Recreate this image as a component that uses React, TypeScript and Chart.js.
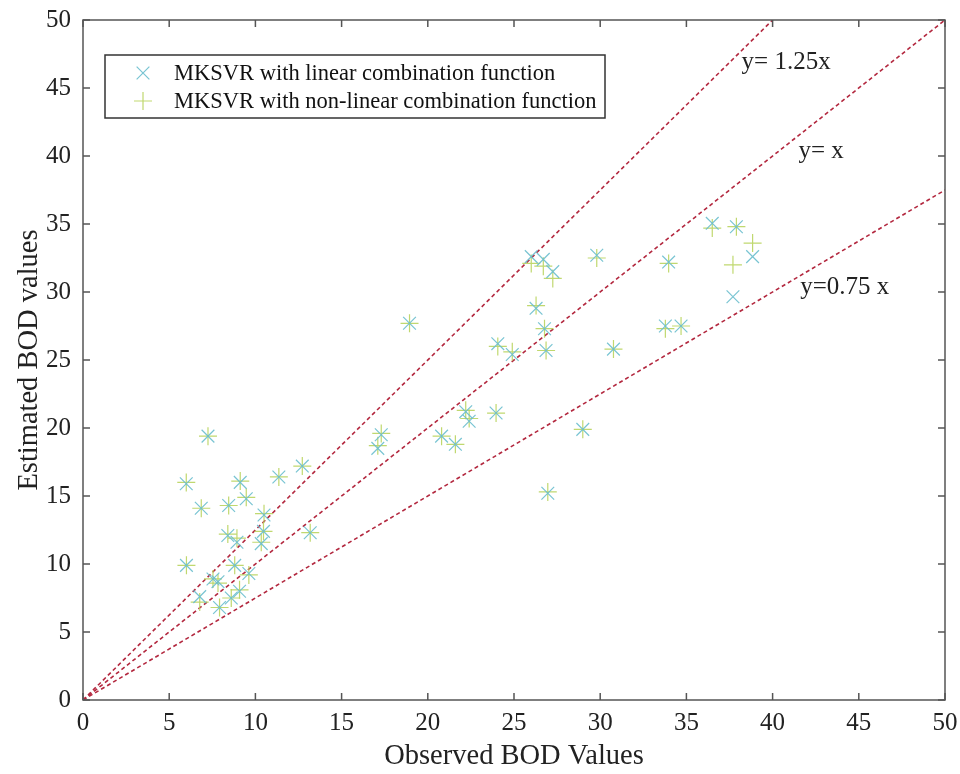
import React, { useEffect, useRef } from "react";
import { Chart, registerables } from "chart.js";

Chart.register(...registerables);

const observed = [
  5.99, 6.0, 6.86, 6.77, 7.25, 7.54, 7.83, 7.92, 8.45, 8.4,
  8.93, 8.8, 8.6, 9.08, 9.12, 9.47, 9.62, 10.5, 10.47, 10.34,
  11.36, 12.72, 13.18, 17.1, 17.3, 18.94, 20.8, 21.6, 22.2, 22.4,
  23.96, 24.06, 24.9, 26.0, 26.7, 27.25, 26.28, 26.77, 26.86, 26.96,
  28.99, 29.8, 30.77, 33.78, 34.69, 33.97, 36.5, 37.9, 38.84, 37.7,
];

const estimatedLinear = [
  15.9, 9.9, 14.1, 7.6, 19.4, 8.9, 8.7, 6.8, 14.3, 12.1,
  11.6, 9.9, 7.5, 8.0, 16.0, 14.8, 9.3, 13.6, 12.4, 11.5,
  16.4, 17.2, 12.3, 18.5, 19.5, 27.7, 19.4, 18.8, 21.2, 20.5,
  21.1, 26.2, 25.4, 32.6, 32.4, 31.5, 28.8, 27.3, 25.7, 15.2,
  19.9, 32.7, 25.8, 27.5, 27.5, 32.2, 35.05, 34.8, 32.6, 29.65,
];

const estimatedNonLinear = [
  16.0, 9.9, 14.1, 7.2, 19.4, 8.9, 8.6, 6.8, 14.3, 12.2,
  11.9, 9.9, 7.5, 8.1, 16.1, 14.9, 9.2, 13.7, 12.4, 11.6,
  16.4, 17.2, 12.3, 18.7, 19.6, 27.7, 19.4, 18.8, 21.3, 20.7,
  21.1, 26.0, 25.6, 32.1, 31.9, 31.0, 29.0, 27.3, 25.7, 15.3,
  19.9, 32.5, 25.8, 27.3, 27.5, 32.1, 34.7, 34.8, 33.6, 32.0,
];

const seriesLabels = [
  "MKSVR with linear combination function",
  "MKSVR with non-linear combination function",
];

// reference lines: endpoints [x, y]
const lineUpper = [[0, 0], [40, 50]];
const lineEqual = [[0, 0], [50, 50]];
const lineLower = [[0, 0], [50, 37.5]];
const lineLabels = ["y= 1.25x", "y= x", "y=0.75 x"];
// label anchor positions in data coordinates [x, y]
const labelPositions = [[38.2, 46.9], [41.5, 40.3], [41.6, 30.3]];

const axisTicks = [0, 5, 10, 15, 20, 25, 30, 35, 40, 45, 50];

const LINEAR_COLOR = "rgba(105,190,205,0.9)";
const NONLINEAR_COLOR = "rgba(185,212,95,0.9)";
const REF_COLOR = "#b3283f";
const SERIF = "'Liberation Serif', 'Times New Roman', serif";

export default function App() {
  const ref = useRef<HTMLCanvasElement | null>(null);

  useEffect(() => {
    const canvas = ref.current;
    if (!canvas) return;

    const toPts = (arr: number[][]) => arr.map(([x, y]) => ({ x, y }));

    const framePlugin = {
      id: "framePlugin",
      afterDraw(chart: any) {
        const { ctx, chartArea, scales } = chart;
        const { left, right, top, bottom } = chartArea;
        const xs = scales.x;
        const ys = scales.y;
        ctx.save();
        ctx.strokeStyle = "#555";
        ctx.lineWidth = 1.5;
        ctx.strokeRect(left, top, right - left, bottom - top);
        const tl = 7;
        ctx.beginPath();
        axisTicks.forEach((v) => {
          const px = xs.getPixelForValue(v);
          ctx.moveTo(px, bottom);
          ctx.lineTo(px, bottom - tl);
          ctx.moveTo(px, top);
          ctx.lineTo(px, top + tl);
          const py = ys.getPixelForValue(v);
          ctx.moveTo(left, py);
          ctx.lineTo(left + tl, py);
          ctx.moveTo(right, py);
          ctx.lineTo(right - tl, py);
        });
        ctx.stroke();

        ctx.fillStyle = "#222";
        ctx.font = `25px ${SERIF}`;
        ctx.textAlign = "left";
        ctx.textBaseline = "middle";
        lineLabels.forEach((t, i) => {
          const [lx, ly] = labelPositions[i];
          ctx.fillText(t, xs.getPixelForValue(lx), ys.getPixelForValue(ly));
        });

        // legend
        const bx = left + 22;
        const by = top + 35;
        const bw = 500;
        const bh = 63;
        ctx.fillStyle = "#fff";
        ctx.fillRect(bx, by, bw, bh);
        ctx.strokeStyle = "#333";
        ctx.lineWidth = 1.5;
        ctx.strokeRect(bx, by, bw, bh);
        const mx = bx + 38;
        const rows = [by + 18, by + 46];
        const r = 9;
        ctx.lineWidth = 1.2;
        ctx.strokeStyle = LINEAR_COLOR;
        ctx.beginPath();
        const d = r * 0.707;
        ctx.moveTo(mx - d, rows[0] - d);
        ctx.lineTo(mx + d, rows[0] + d);
        ctx.moveTo(mx - d, rows[0] + d);
        ctx.lineTo(mx + d, rows[0] - d);
        ctx.stroke();
        ctx.strokeStyle = NONLINEAR_COLOR;
        ctx.beginPath();
        ctx.moveTo(mx - r, rows[1]);
        ctx.lineTo(mx + r, rows[1]);
        ctx.moveTo(mx, rows[1] - r);
        ctx.lineTo(mx, rows[1] + r);
        ctx.stroke();
        ctx.fillStyle = "#111";
        ctx.font = `22.5px ${SERIF}`;
        ctx.textBaseline = "middle";
        seriesLabels.forEach((t, i) => {
          ctx.fillText(t, bx + 69, rows[i] + 1);
        });
        ctx.restore();
      },
    };

    const refLine = (data: number[][]) => ({
      type: "line" as const,
      data: toPts(data),
      borderColor: REF_COLOR,
      borderWidth: 1.6,
      borderDash: [4, 3],
      pointRadius: 0,
      fill: false,
      showLine: true,
    });

    const chart = new Chart(canvas, {
      type: "scatter",
      data: {
        datasets: [
          {
            label: seriesLabels[0],
            data: observed.map((x, i) => ({ x, y: estimatedLinear[i] })),
            pointStyle: "crossRot",
            pointRadius: 9,
            borderColor: LINEAR_COLOR,
            backgroundColor: LINEAR_COLOR,
            pointBorderWidth: 1.2,
          },
          {
            label: seriesLabels[1],
            data: observed.map((x, i) => ({ x, y: estimatedNonLinear[i] })),
            pointStyle: "cross",
            pointRadius: 9,
            borderColor: NONLINEAR_COLOR,
            backgroundColor: NONLINEAR_COLOR,
            pointBorderWidth: 1.2,
          },
          refLine(lineUpper) as any,
          refLine(lineEqual) as any,
          refLine(lineLower) as any,
        ],
      },
      options: {
        animation: false,
        responsive: true,
        maintainAspectRatio: false,
        layout: { padding: { left: 0, top: 20, right: 15, bottom: 0 } },
        plugins: {
          legend: { display: false },
          tooltip: { enabled: false },
        },
        scales: {
          x: {
            type: "linear",
            min: 0,
            max: 50,
            afterBuildTicks: (scale: any) => {
              scale.ticks = axisTicks.map((v) => ({ value: v }));
            },
            afterFit: (scale: any) => {
              scale.height = 74;
              scale.paddingLeft = 0;
              scale.paddingRight = 0;
            },
            grid: { display: false, drawTicks: false },
            border: { display: false },
            ticks: {
              color: "#222",
              font: { family: SERIF, size: 25 },
              padding: 8,
              maxRotation: 0,
            },
            title: {
              display: true,
              text: "Observed BOD Values",
              color: "#222",
              font: { family: SERIF, size: 28.5 },
              padding: { top: 0, bottom: 0 },
            },
          },
          y: {
            type: "linear",
            min: 0,
            max: 50,
            afterBuildTicks: (scale: any) => {
              scale.ticks = axisTicks.map((v) => ({ value: v }));
            },
            afterFit: (scale: any) => {
              scale.width = 83;
              scale.paddingTop = 0;
              scale.paddingBottom = 0;
            },
            grid: { display: false, drawTicks: false },
            border: { display: false },
            ticks: {
              color: "#222",
              font: { family: SERIF, size: 25 },
              padding: 12,
            },
            title: {
              display: true,
              text: "Estimated BOD values",
              color: "#222",
              font: { family: SERIF, size: 28.5 },
              padding: { top: 12, bottom: 6 },
            },
          },
        },
      },
      plugins: [framePlugin],
    });

    return () => chart.destroy();
  }, []);

  return (
    <div style={{ position: "fixed", left: 0, top: 0, width: 960, height: 774, background: "#fff" }}>
      <canvas ref={ref} />
    </div>
  );
}
